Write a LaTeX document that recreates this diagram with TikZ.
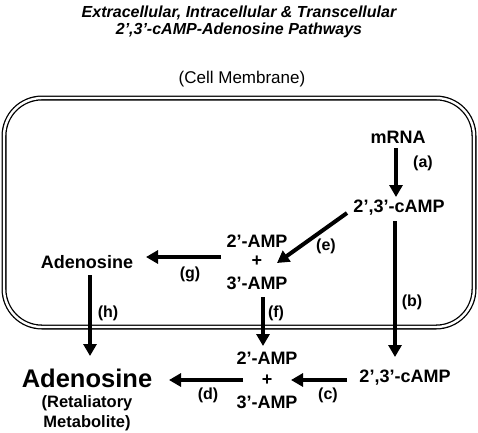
\documentclass[tikz,border=0pt]{standalone}
\usepackage{fontspec}
\setmainfont{Liberation Sans}
\usetikzlibrary{arrows.meta}
\begin{document}
\begin{tikzpicture}[x=1pt,y=-1pt,
  mol/.style={font=\fontsize{18}{20}\selectfont\bfseries, inner sep=1pt},
  lab/.style={font=\fontsize{16}{18}\selectfont\bfseries, inner sep=1pt},
  arr/.style={line width=4pt, -{Triangle[length=12pt,width=13pt]}}]
\useasboundingbox (0,0) rectangle (478,432);
% title
\node[font=\fontsize{16}{17.5}\selectfont\bfseries\itshape, align=center] (title) at (239,22)
  {Extracellular, Intracellular \& Transcellular\\2’,3’-cAMP-Adenosine Pathways};
\node[font=\fontsize{17}{19}\selectfont] (mem) at (242,79) {(Cell Membrane)};
% membrane
\draw[line width=1.3pt, double, double distance=2.4pt, rounded corners=38pt] (4,98) rectangle (474,327);
% nodes
\node[mol] (mrna) at (398,137) {mRNA};
\node[mol] (camp1) at (399,208) {2’,3’-cAMP};
\node[mol] (amp2a) at (257,241) {2’-AMP};
\node[mol] (plusa) at (257,261) {+};
\node[mol] (amp3a) at (257,283) {3’-AMP};
\node[mol] (ado1) at (87,262) {Adenosine};
\node[mol] (amp2b) at (267,358) {2’-AMP};
\node[mol] (plusb) at (267,380) {+};
\node[mol] (amp3b) at (267,402) {3’-AMP};
\node[mol] (camp2) at (405,378) {2’,3’-cAMP};
\node[font=\fontsize{25.5}{27}\selectfont\bfseries, inner sep=1pt] (ado2) at (87,378) {Adenosine};
\node[font=\fontsize{16.5}{20}\selectfont\bfseries, align=center, inner sep=1pt] (ret) at (87,413) {(Retaliatory\\Metabolite)};
% coordinates
\coordinate (aS) at (396,148); \coordinate (aE) at (396,197);
\coordinate (bS) at (395,221); \coordinate (bE) at (395,357);
\coordinate (eS) at (347,213); \coordinate (eE) at (277,263);
\coordinate (gS) at (221,257); \coordinate (gE) at (146,257);
\coordinate (hS) at (90,275); \coordinate (hE) at (90,356);
\coordinate (fS) at (263,297); \coordinate (fE) at (263,346);
\coordinate (dS) at (243,380); \coordinate (dE) at (169,380);
\coordinate (cS) at (347,380); \coordinate (cE) at (291,380);
% arrows
\draw[arr] (aS) -- (aE);
\draw[arr] (bS) -- (bE);
\draw[arr] (eS) -- (eE);
\draw[arr] (gS) -- (gE);
\draw[arr] (hS) -- (hE);
\draw[arr] (fS) -- (fE);
\draw[arr] (dS) -- (dE);
\draw[arr] (cS) -- (cE);
% labels
\node[lab] (la) at (423,163) {(a)};
\node[lab] (lb) at (412,302) {(b)};
\node[lab] (le) at (326,246) {(e)};
\node[lab] (lg) at (190,274) {(g)};
\node[lab] (lh) at (108,313) {(h)};
\node[lab] (lf) at (276,313) {(f)};
\node[lab] (ld) at (208,395) {(d)};
\node[lab] (lc) at (328,395) {(c)};
\end{tikzpicture}
\end{document}
